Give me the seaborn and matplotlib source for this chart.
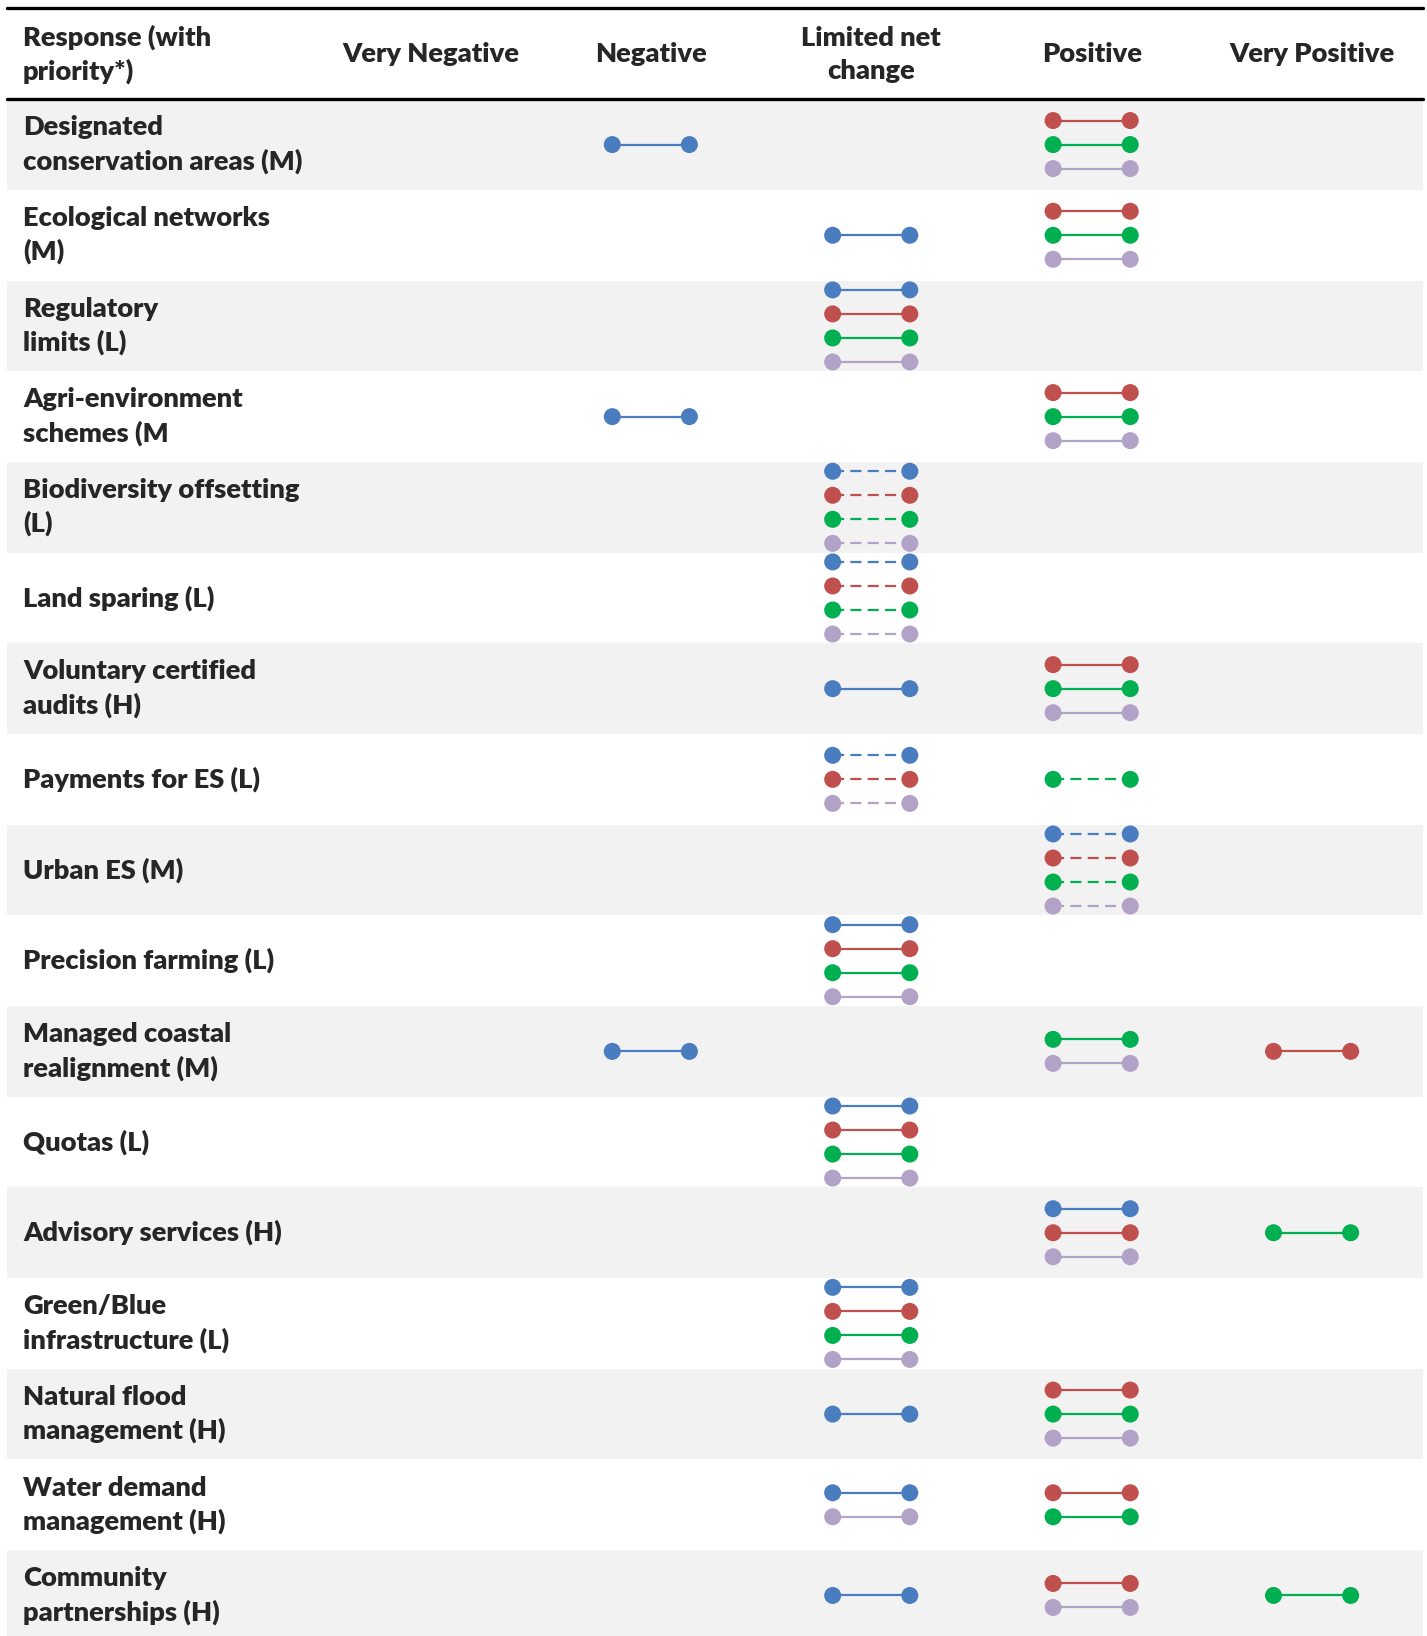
import numpy as np
import pandas as pd
import matplotlib
matplotlib.use("Agg")
import matplotlib.pyplot as plt
import seaborn as sns

sns.set_theme(style="white")
plt.rcParams['font.family'] = ['Lato', 'DejaVu Sans']

# ---- data ----
categories = ["Very Negative", "Negative", "Limited net\nchange", "Positive", "Very Positive"]
responses = [
    "Designated\nconservation areas (M)", "Ecological networks\n(M)", "Regulatory\nlimits (L)",
    "Agri-environment\nschemes (M", "Biodiversity offsetting\n(L)", "Land sparing (L)",
    "Voluntary certified\naudits (H)", "Payments for ES (L)", "Urban ES (M)",
    "Precision farming (L)", "Managed coastal\nrealignment (M)", "Quotas (L)",
    "Advisory services (H)", "Green/Blue\ninfrastructure (L)", "Natural flood\nmanagement (H)",
    "Water demand\nmanagement (H)", "Community\npartnerships (H)",
]
services = ["blue", "red", "green", "purple"]
# category index (0 = Very Negative ... 4 = Very Positive) per service
blue_cat   = [1, 2, 2, 1, 2, 2, 2, 2, 3, 2, 1, 2, 3, 2, 2, 2, 2]
red_cat    = [3, 3, 2, 3, 2, 2, 3, 2, 3, 2, 4, 2, 3, 2, 3, 3, 3]
green_cat  = [3, 3, 2, 3, 2, 2, 3, 3, 3, 2, 3, 2, 4, 2, 3, 3, 4]
purple_cat = [3, 3, 2, 3, 2, 2, 3, 2, 3, 2, 3, 2, 3, 2, 3, 2, 3]
dashed = [False, False, False, False, True, True, False, True, True,
          False, False, False, False, False, False, False, False]

palette = {"blue": "#4A7DBF", "red": "#C0504D", "green": "#00B050", "purple": "#B3A2C7"}

# ---- build segments ----
cats = {"blue": blue_cat, "red": red_cat, "green": green_cat, "purple": purple_cat}
half = 0.175
step = 0.265
rows = []
seg = 0
for r in range(len(responses)):
    for c in range(5):
        present = [s for s in services if cats[s][r] == c]
        n = len(present)
        for i, s in enumerate(present):
            y = r + (i - (n - 1) / 2) * step
            for x in (c - half, c + half):
                rows.append({"x": x, "y": y, "service": s, "seg": seg,
                             "style": "dashed" if dashed[r] else "solid"})
            seg += 1
df = pd.DataFrame(rows)

# ---- figure ----
W, H = 1366, 1566     # layout measured in reference pixels
top, rh = 95, 86.8
x0, cw = 412, 211

def ydat(yp):
    return (yp - top) / rh - 0.5

def xdat(xp):
    return (xp - x0) / cw

fig = plt.figure(figsize=(14.27, 16.36), dpi=100)
ax = fig.add_axes([0, 0, 1, 1])

# shading
for r in range(len(responses)):
    if r % 2 == 0:
        ax.axhspan(r - 0.5, r + 0.5, xmin=0.005, xmax=0.997, color="#F2F2F2", zorder=0, lw=0)

# header lines
ax.axhline(ydat(8), xmin=0.005, xmax=0.997, color="black", lw=2.4)
ax.axhline(-0.5, xmin=0.005, xmax=0.997, color="black", lw=2.4)

sns.lineplot(data=df, x="x", y="y", hue="service", style="style", units="seg",
             estimator=None, sort=False, palette=palette,
             dashes={"solid": "", "dashed": (5, 2.8)}, lw=1.6,
             legend=False, ax=ax, zorder=2)
sns.scatterplot(data=df, x="x", y="y", hue="service", palette=palette,
                s=150, edgecolor="none", legend=False, ax=ax, zorder=3)
ax.set_xlim(xdat(0), xdat(W))
ax.set_ylim(ydat(H), ydat(0))
ax.axis("off")

fs = 19.6
wt = 800
ls = 1.42
hy = ydat(52)
lx = xdat(22)
ax.text(lx, hy, "Response (with\npriority*)", ha="left", va="center",
        fontsize=fs, fontweight=wt, linespacing=ls)
for c, name in enumerate(categories):
    ax.text(c, hy, name, ha="center", va="center", fontsize=fs,
            fontweight=wt, linespacing=ls)
for r, name in enumerate(responses):
    ax.text(lx, r, name, ha="left", va="center", fontsize=fs,
            fontweight=wt, linespacing=ls)

fig.savefig("out.png", dpi=100)
